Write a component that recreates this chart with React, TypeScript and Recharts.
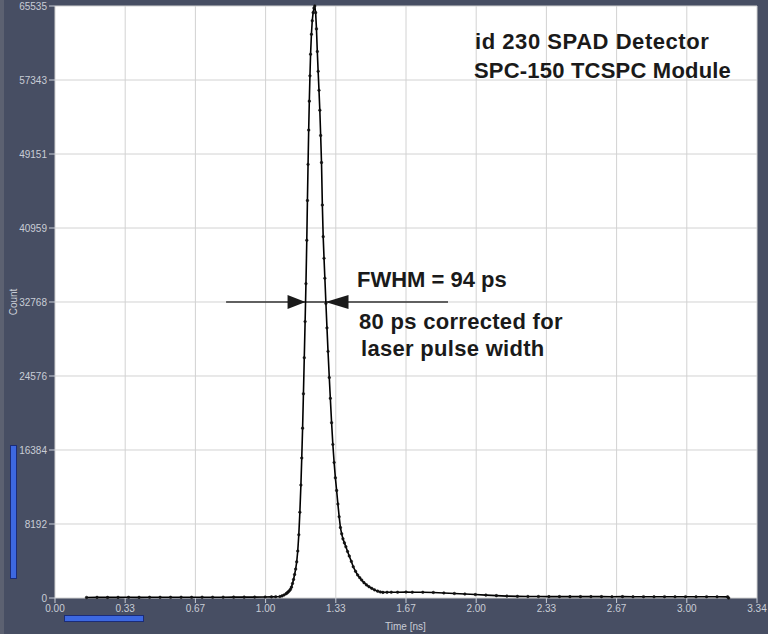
import { LineChart, Line, XAxis, YAxis, CartesianGrid, ReferenceLine, ReferenceDot } from "recharts";

// histogram channels (time in ns, counts)
const TIME_NS = [
  0.15, 0.2, 0.25, 0.3, 0.35, 0.4, 0.45, 0.5, 0.55, 0.6, 0.65, 0.7, 0.75, 0.8, 0.85, 0.9, 0.95, 1.0,
  1.03, 1.05, 1.07, 1.08, 1.09,
  1.1, 1.105, 1.11, 1.115, 1.12, 1.125, 1.13, 1.135, 1.14, 1.145, 1.15, 1.155, 1.16, 1.165, 1.17,
  1.174, 1.178, 1.182, 1.186, 1.19, 1.194, 1.198, 1.201, 1.204, 1.207, 1.21, 1.213, 1.216, 1.22,
  1.224, 1.228, 1.232, 1.236,
  1.24, 1.244, 1.248, 1.252, 1.256, 1.26, 1.264, 1.268, 1.272, 1.276, 1.28, 1.284, 1.289, 1.294,
  1.299, 1.305, 1.31, 1.316, 1.322, 1.328, 1.334, 1.34, 1.346, 1.352, 1.358, 1.364, 1.37, 1.377,
  1.384, 1.392, 1.4, 1.41, 1.419, 1.43, 1.44, 1.45, 1.459, 1.47, 1.482, 1.494, 1.507, 1.52, 1.535,
  1.548, 1.56, 1.58, 1.6, 1.63, 1.67, 1.7, 1.75, 1.8, 1.85, 1.9, 1.95, 2.0, 2.05, 2.1, 2.15, 2.2,
  2.25, 2.3, 2.35, 2.4, 2.45, 2.5, 2.55, 2.6, 2.65, 2.7, 2.75, 2.8, 2.85, 2.9, 2.95, 3.0, 3.05,
  3.1, 3.15, 3.2, 3.205,
];

const COUNTS = [
  60, 70, 65, 70, 75, 70, 80, 75, 80, 85, 80, 90, 85, 90, 95, 95, 100, 110,
  125, 140, 160, 230, 340,
  480, 580, 680, 800, 950, 1200, 1600, 2050, 2600, 3200, 4000, 5200, 7000, 9500, 12500,
  15500, 18800, 22600, 26600, 30600, 34800, 39600, 44000, 48000, 51800, 55000, 57800, 60200, 62400,
  63900, 64800, 65300, 65535,
  64800, 63000, 60500, 58300, 56200, 54000, 51200, 48200, 43500, 40000, 37600, 35400, 32600, 29900,
  27300, 24400, 22100, 19400, 17000, 15000, 13300, 11900, 10400, 9000, 7800, 7100, 6550, 6100,
  5670, 5150, 4650, 4050, 3460, 2950, 2550, 2250, 1990, 1700, 1450, 1250, 1070, 900, 760,
  670, 620, 630, 640, 640, 660, 640, 630, 610, 560, 500, 440, 380, 320, 260, 210, 180,
  165, 160, 155, 155, 150, 150, 155, 150, 145, 150, 145, 145, 140, 145, 140, 140, 135,
  140, 135, 130, 0,
];

const X_TICKS = [0, 0.334, 0.668, 1.002, 1.336, 1.67, 2.004, 2.338, 2.672, 3.006, 3.34];
const X_TICK_LABELS = ["0.00", "0.33", "0.67", "1.00", "1.33", "1.67", "2.00", "2.33", "2.67", "3.00", "3.34"];
const Y_TICKS = [0, 8192, 16384, 24576, 32768, 40959, 49151, 57343, 65535];

// FWHM marker, half of the peak
const HALF_MAX = 32768;
const FWHM_LEFT = 1.192;
const FWHM_RIGHT = 1.287;
const MARKER_FROM = 0.814;
const MARKER_TO = 1.87;

const data = TIME_NS.map((t, i) => ({ t, count: COUNTS[i] }));

const AXIS_TEXT = "#c9cdd6";
const FONT = "'Liberation Sans', Arial, sans-serif";

const ArrowRight = (props: any) => {
  const { cx, cy } = props;
  return <path d={`M${cx},${cy} L${cx - 18},${cy - 7} L${cx - 18},${cy + 7} Z`} fill="#1a1a1a" />;
};

const ArrowLeft = (props: any) => {
  const { cx, cy } = props;
  return <path d={`M${cx},${cy} L${cx + 23},${cy - 7} L${cx + 23},${cy + 7} Z`} fill="#1a1a1a" />;
};

const note: React.CSSProperties = {
  position: "absolute",
  fontFamily: FONT,
  fontWeight: 700,
  fontSize: 22,
  lineHeight: "22px",
  color: "#1a1a1a",
  whiteSpace: "nowrap",
};

export default function App() {
  return (
    <div
      style={{
        position: "fixed",
        left: 0,
        top: 0,
        width: 768,
        height: 634,
        background: "#474e63",
        fontFamily: FONT,
        overflow: "hidden",
      }}
    >
      <div style={{ position: "absolute", left: 0, top: 0, width: 4, height: 634, background: "#5c6171" }} />
      <LineChart width={768} height={634} data={data} margin={{ top: 6, right: 11, bottom: 0, left: 0 }}>
        <CartesianGrid fill="#ffffff" stroke="#d2d2d2" strokeWidth={1} />
        <XAxis
          type="number"
          dataKey="t"
          domain={[0, 3.34]}
          ticks={X_TICKS}
          interval={0}
          tickFormatter={(_v: number, i: number) => X_TICK_LABELS[i]}
          height={36}
          tickSize={5}
          tickMargin={2}
          stroke={AXIS_TEXT}
          tick={{ fill: AXIS_TEXT, fontSize: 10 }}
          axisLine={false}
        />
        <YAxis
          type="number"
          domain={[0, 65535]}
          ticks={Y_TICKS}
          interval={0}
          width={55}
          tickSize={6}
          tickMargin={2}
          stroke={AXIS_TEXT}
          tick={{ fill: AXIS_TEXT, fontSize: 10 }}
          axisLine={false}
        />
        <ReferenceLine
          segment={[
            { x: MARKER_FROM, y: HALF_MAX },
            { x: MARKER_TO, y: HALF_MAX },
          ]}
          stroke="#333333"
          strokeWidth={1.5}
        />
        <Line
          type="linear"
          dataKey="count"
          stroke="#000000"
          strokeWidth={1.6}
          dot={{ r: 1.3, fill: "#111111", stroke: "#111111", strokeWidth: 0.5 }}
          isAnimationActive={false}
        />
        <ReferenceDot x={FWHM_LEFT} y={HALF_MAX} r={0} shape={ArrowRight} />
        <ReferenceDot x={FWHM_RIGHT} y={HALF_MAX} r={0} shape={ArrowLeft} />
      </LineChart>

      <div
        style={{
          position: "absolute",
          left: 13,
          top: 302,
          transform: "translate(-50%, -50%) rotate(-90deg)",
          fontSize: 10,
          color: AXIS_TEXT,
        }}
      >
        Count
      </div>
      <div style={{ position: "absolute", left: 385, top: 621, fontSize: 10, color: AXIS_TEXT }}>Time [ns]</div>

      {/* scrollbars of the original viewer */}
      <div
        style={{
          position: "absolute",
          left: 10,
          top: 445,
          width: 5,
          height: 132,
          background: "#3d68e0",
          border: "1px solid #1b2c78",
        }}
      />
      <div
        style={{
          position: "absolute",
          left: 64,
          top: 615,
          width: 78,
          height: 5,
          background: "#3d68e0",
          border: "1px solid #1b2c78",
        }}
      />

      <div style={{ ...note, left: 475, top: 31, letterSpacing: 0.55 }}>id 230 SPAD Detector</div>
      <div style={{ ...note, left: 474, top: 60, letterSpacing: 0.2 }}>SPC-150 TCSPC Module</div>
      <div style={{ ...note, left: 357, top: 269 }}>FWHM = 94 ps</div>
      <div style={{ ...note, left: 359, top: 311, letterSpacing: 0.3 }}>80 ps corrected for</div>
      <div style={{ ...note, left: 361, top: 338, letterSpacing: 0.3 }}>laser pulse width</div>
    </div>
  );
}
